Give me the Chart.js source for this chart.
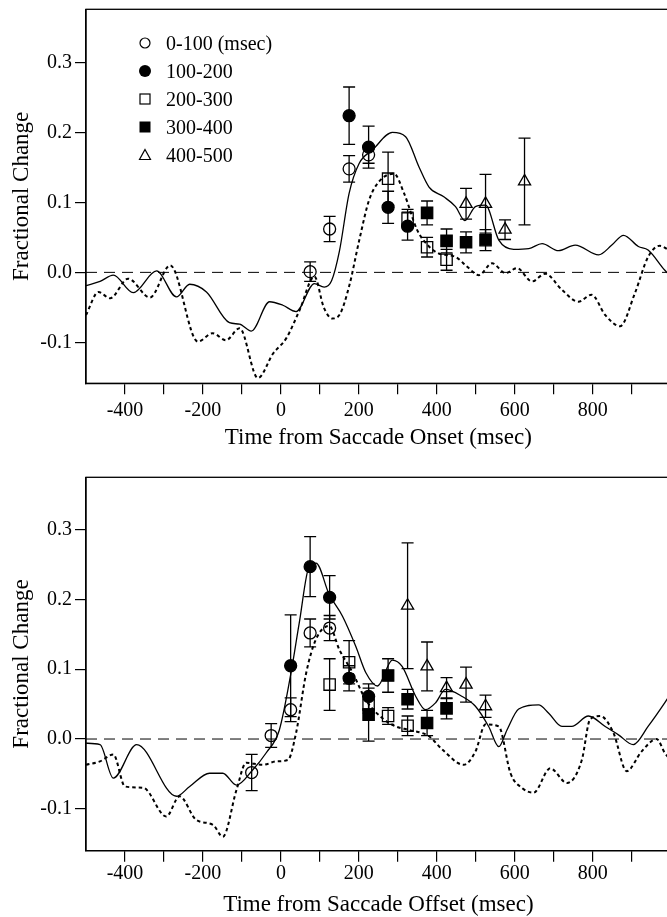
<!DOCTYPE html>
<html>
<head>
<meta charset="utf-8">
<script src="https://cdn.jsdelivr.net/npm/chart.js@4.4.1/dist/chart.umd.min.js"></script>
<style>
html, body { margin: 0; padding: 0; overflow: hidden; background: #fff; }
#wrap { position: relative; width: 667px; height: 917px; overflow: hidden; }
canvas { position: absolute; left: 0; }
#onset { top: 0; }
#offset { top: 460px; }
#legend { position: absolute; left: 137px; top: 29px; font-family: 'Liberation Serif', serif; font-size: 20px; color: #000; }
#legend .row { display: flex; align-items: center; height: 28px; }
#legend svg { width: 16px; height: 16px; margin-right: 13px; }
</style>
</head>
<body>
<div id="wrap">
  <canvas id="onset" width="680" height="460"></canvas>
  <canvas id="offset" width="680" height="460"></canvas>
  <div id="legend"></div>
</div>
<script>
// axis ticks
const timeTicks = [-400, -300, -200, -100, 0, 100, 200, 300, 400, 500, 600, 700, 800, 900];
const timeLabels = [-400, -200, 0, 200, 400, 600, 800];
const changeTicks = [-0.1, 0, 0.1, 0.2, 0.3];
const changeLabels = ['-0.1', '0.0', '0.1', '0.2', '0.3'];
const binLabels = ['0-100 (msec)', '100-200', '200-300', '300-400', '400-500'];

const zeroLineT = [-500, 1000];
const zeroLineV = [0, 0];

// top panel: time from saccade onset
const onsetSolidT = [-500, -464, -430, -379, -319, -268, -234, -191, -132, -106, -76, -29, 5, 39, 86, 111, 130, 150, 175, 201, 235, 286, 320, 354, 380, 418, 448, 472, 499, 525, 559, 597, 636, 670, 712, 755, 815, 849, 879, 917, 942, 985, 1000];
const onsetSolidV = [-0.019, -0.013, -0.004, -0.029, 0.002, -0.035, -0.017, -0.028, -0.072, -0.074, -0.084, -0.042, -0.047, -0.056, -0.016, -0.021, -0.012, 0.030, 0.113, 0.156, 0.175, 0.200, 0.194, 0.151, 0.122, 0.108, 0.094, 0.074, 0.094, 0.096, 0.046, 0.033, 0.034, 0.041, 0.031, 0.039, 0.025, 0.039, 0.053, 0.037, 0.032, 0.003, -0.005];
const onsetDotT = [-500, -468, -438, -392, -336, -284, -213, -175, -141, -106, -59, -20, 14, 48, 86, 110, 132, 150, 175, 201, 226, 252, 290, 316, 350, 380, 405, 448, 478, 508, 542, 576, 606, 644, 678, 721, 763, 797, 832, 870, 908, 942, 972, 1000];
const onsetDotV = [-0.061, -0.028, -0.037, -0.009, -0.036, 0.010, -0.099, -0.087, -0.097, -0.080, -0.151, -0.116, -0.094, -0.054, -0.006, -0.050, -0.066, -0.061, -0.020, 0.046, 0.103, 0.130, 0.141, 0.113, 0.060, 0.037, 0.027, 0.022, 0.008, -0.004, 0.013, -0.001, 0.006, -0.013, -0.002, -0.025, -0.042, -0.032, -0.061, -0.077, -0.030, 0.022, 0.038, 0.030];
const onsetMarkT = [
  [75, 125, 175, 225],
  [175, 225, 275, 325],
  [275, 325, 375, 425],
  [375, 425, 475, 525],
  [475, 525, 575, 625]
];
const onsetMarkV = [
  [0.001, 0.062, 0.148, 0.168],
  [0.224, 0.179, 0.093, 0.066],
  [0.134, 0.077, 0.036, 0.018],
  [0.085, 0.045, 0.043, 0.046],
  [0.098, 0.098, 0.061, 0.130]
];
const onsetMarkE = [
  [0.014, 0.018, 0.019, 0.012],
  [0.041, 0.030, 0.023, 0.020],
  [0.038, 0.013, 0.014, 0.015],
  [0.017, 0.017, 0.015, 0.015],
  [0.022, 0.042, 0.014, 0.062]
];

// bottom panel: time from saccade offset
const offsetSolidT = [-500, -464, -430, -370, -268, -234, -183, -149, -114, -72, -38, -4, 26, 47, 73, 90, 124, 158, 192, 218, 248, 286, 311, 346, 371, 397, 422, 465, 499, 533, 559, 580, 610, 661, 687, 721, 746, 789, 832, 866, 904, 942, 985, 1000];
const offsetSolidV = [-0.006, -0.008, -0.056, -0.008, -0.082, -0.068, -0.049, -0.049, -0.066, -0.044, -0.020, 0.013, 0.095, 0.166, 0.248, 0.252, 0.207, 0.176, 0.133, 0.095, 0.076, 0.113, 0.104, 0.061, 0.042, 0.052, 0.071, 0.061, 0.047, 0.018, -0.011, 0.013, 0.043, 0.049, 0.037, 0.018, 0.018, 0.033, 0.018, 0.006, -0.008, 0.018, 0.052, 0.065];
const offsetDotT = [-500, -464, -430, -400, -353, -294, -260, -217, -174, -149, -114, -89, -46, -12, 18, 39, 65, 90, 124, 150, 184, 218, 260, 295, 329, 380, 414, 469, 499, 525, 559, 589, 618, 648, 691, 734, 772, 793, 819, 853, 887, 925, 964, 985, 1000];
const offsetDotV = [-0.037, -0.032, -0.022, -0.068, -0.070, -0.111, -0.082, -0.116, -0.123, -0.140, -0.073, -0.034, -0.037, -0.032, -0.030, 0.009, 0.095, 0.143, 0.162, 0.128, 0.095, 0.056, 0.030, 0.018, 0.013, 0.004, -0.015, -0.037, -0.018, 0.021, 0.018, -0.049, -0.070, -0.077, -0.042, -0.063, -0.030, 0.028, 0.033, 0.009, -0.046, -0.018, 0.000, -0.020, -0.030];
const offsetMarkT = [
  [-75, -25, 25, 75, 125],
  [25, 75, 125, 175, 225],
  [125, 175, 225, 275, 325],
  [225, 275, 325, 375, 425],
  [325, 375, 425, 475, 525]
];
const offsetMarkV = [
  [-0.048, 0.005, 0.042, 0.152, 0.159],
  [0.105, 0.247, 0.203, 0.087, 0.061],
  [0.078, 0.110, 0.049, 0.033, 0.019],
  [0.035, 0.091, 0.057, 0.023, 0.044],
  [0.191, 0.104, 0.073, 0.078, 0.047]
];
const offsetMarkE = [
  [0.026, 0.017, 0.017, 0.020, 0.018],
  [0.073, 0.043, 0.031, 0.018, 0.018],
  [0.037, 0.031, 0.012, 0.012, 0.014],
  [0.038, 0.024, 0.014, 0.018, 0.015],
  [0.090, 0.035, 0.015, 0.025, 0.016]
];

// marker look for each time bin
const binStyle = ['circle', 'circle', 'rect', 'rect', 'triangle'];
const binFilled = [false, true, false, true, false];
const binRadius = [6, 6, 8, 8, 7];

const serif = "'Liberation Serif', 'Times New Roman', serif";

function pairs(xs, ys) {
  return xs.map((x, i) => ({ x: x, y: ys[i] }));
}

// vertical error bars with caps, drawn through the chart scales
const errorBars = {
  id: 'errorBars',
  beforeDatasetsDraw(chart) {
    const { ctx, scales: { x, y } } = chart;
    ctx.save();
    ctx.strokeStyle = '#000';
    ctx.lineWidth = 1.3;
    chart.data.datasets.forEach(ds => {
      if (!ds.errors) return;
      ds.data.forEach((p, i) => {
        const e = ds.errors[i];
        const px = x.getPixelForValue(p.x);
        const top = y.getPixelForValue(p.y + e);
        const bot = y.getPixelForValue(p.y - e);
        ctx.beginPath();
        ctx.moveTo(px, top); ctx.lineTo(px, bot);
        ctx.moveTo(px - 6, top); ctx.lineTo(px + 6, top);
        ctx.moveTo(px - 6, bot); ctx.lineTo(px + 6, bot);
        ctx.stroke();
      });
    });
    ctx.restore();
  }
};

// box round the plot area
const frame = {
  id: 'frame',
  afterDraw(chart) {
    const { ctx, chartArea: a } = chart;
    ctx.save();
    ctx.strokeStyle = '#000';
    ctx.lineWidth = 1.3;
    ctx.strokeRect(a.left, a.top, a.right - a.left, a.bottom - a.top);
    ctx.restore();
  }
};

function buildChart(id, o) {
  const datasets = [
    { data: pairs(zeroLineT, zeroLineV), showLine: true, borderColor: '#000', borderWidth: 1, borderDash: [11, 7], pointRadius: 0, order: 3 },
    { data: pairs(o.solidT, o.solidV), showLine: true, borderColor: '#000', borderWidth: 1.3, pointRadius: 0, cubicInterpolationMode: 'monotone', order: 2 },
    { data: pairs(o.dotT, o.dotV), showLine: true, borderColor: '#000', borderWidth: 2, borderDash: [3.5, 3], pointRadius: 0, cubicInterpolationMode: 'monotone', order: 2 }
  ];
  o.markT.forEach((ts, k) => {
    datasets.push({
      label: binLabels[k],
      data: pairs(ts, o.markV[k]),
      errors: o.markE[k],
      showLine: false,
      pointStyle: binStyle[k],
      pointRadius: binRadius[k],
      pointBorderWidth: 1.3,
      borderColor: '#000',
      backgroundColor: binFilled[k] ? '#000' : 'rgba(0,0,0,0)',
      order: 0
    });
  });

  return new Chart(document.getElementById(id), {
    type: 'scatter',
    data: { datasets: datasets },
    plugins: [errorBars, frame],
    options: {
      responsive: false,
      animation: false,
      events: [],
      layout: { padding: { top: o.top, right: 6.5, left: 0, bottom: 0 } },
      plugins: { legend: { display: false }, tooltip: { enabled: false } },
      scales: {
        x: {
          type: 'linear',
          min: -500,
          max: 1000,
          afterBuildTicks: s => { s.ticks = timeTicks.map(v => ({ value: v })); },
          afterFit: s => { s.height = o.xAxisH; s.paddingLeft = 0; s.paddingRight = 0; },
          ticks: {
            callback: v => timeLabels.includes(v) ? String(v) : '',
            font: { family: serif, size: 20 },
            color: '#000',
            padding: o.tickPad,
            maxRotation: 0,
            autoSkip: false
          },
          grid: { drawOnChartArea: false, drawTicks: true, tickLength: 11, color: '#000', lineWidth: 1.2 },
          border: { display: true, color: '#000', width: 1.3 },
          title: { display: true, text: o.xTitle, color: '#000', font: { family: serif, size: 23 }, padding: { top: 0, bottom: o.titlePad } }
        },
        y: {
          type: 'linear',
          min: o.yMin,
          max: o.yMax,
          afterBuildTicks: s => { s.ticks = changeTicks.map(v => ({ value: v })); },
          afterFit: s => { s.width = 86; s.paddingTop = 0; s.paddingBottom = 0; },
          ticks: {
            callback: (v, i) => changeLabels[i],
            font: { family: serif, size: 20 },
            color: '#000',
            padding: 3
          },
          grid: { drawOnChartArea: false, drawTicks: true, tickLength: 11, color: '#000', lineWidth: 1.2 },
          border: { display: true, color: '#000', width: 1.3 },
          title: { display: true, text: 'Fractional Change', color: '#000', font: { family: serif, size: 23 }, padding: { top: 8, bottom: 0 } }
        }
      }
    }
  });
}

buildChart('onset', {
  solidT: onsetSolidT, solidV: onsetSolidV,
  dotT: onsetDotT, dotV: onsetDotV,
  markT: onsetMarkT, markV: onsetMarkV, markE: onsetMarkE,
  yMin: -0.1586, yMax: 0.3761,
  top: 9, xAxisH: 76.7, tickPad: 4, titlePad: 8,
  xTitle: 'Time from Saccade Onset (msec)'
});

buildChart('offset', {
  solidT: offsetSolidT, solidV: offsetSolidV,
  dotT: offsetDotT, dotV: offsetDotV,
  markT: offsetMarkT, markV: offsetMarkV, markE: offsetMarkE,
  yMin: -0.160, yMax: 0.375,
  top: 17.3, xAxisH: 69.3, tickPad: 0, titlePad: 1,
  xTitle: 'Time from Saccade Offset (msec)'
});

// legend inside the top panel
const legendSymbols = [
  '<circle cx="8" cy="8" r="5" fill="none" stroke="#000" stroke-width="1.2"/>',
  '<circle cx="8" cy="8" r="6" fill="#000"/>',
  '<rect x="3" y="3" width="10" height="10" fill="none" stroke="#000" stroke-width="1.2"/>',
  '<rect x="2.5" y="2.5" width="11" height="11" fill="#000"/>',
  '<polygon points="8,2.5 13.5,12.5 2.5,12.5" fill="none" stroke="#000" stroke-width="1.2"/>'
];
const legend = document.getElementById('legend');
binLabels.forEach((label, k) => {
  const row = document.createElement('div');
  row.className = 'row';
  row.innerHTML = '<svg viewBox="0 0 16 16">' + legendSymbols[k] + '</svg>';
  const span = document.createElement('span');
  span.textContent = label;
  row.appendChild(span);
  legend.appendChild(row);
});
</script>
</body>
</html>
